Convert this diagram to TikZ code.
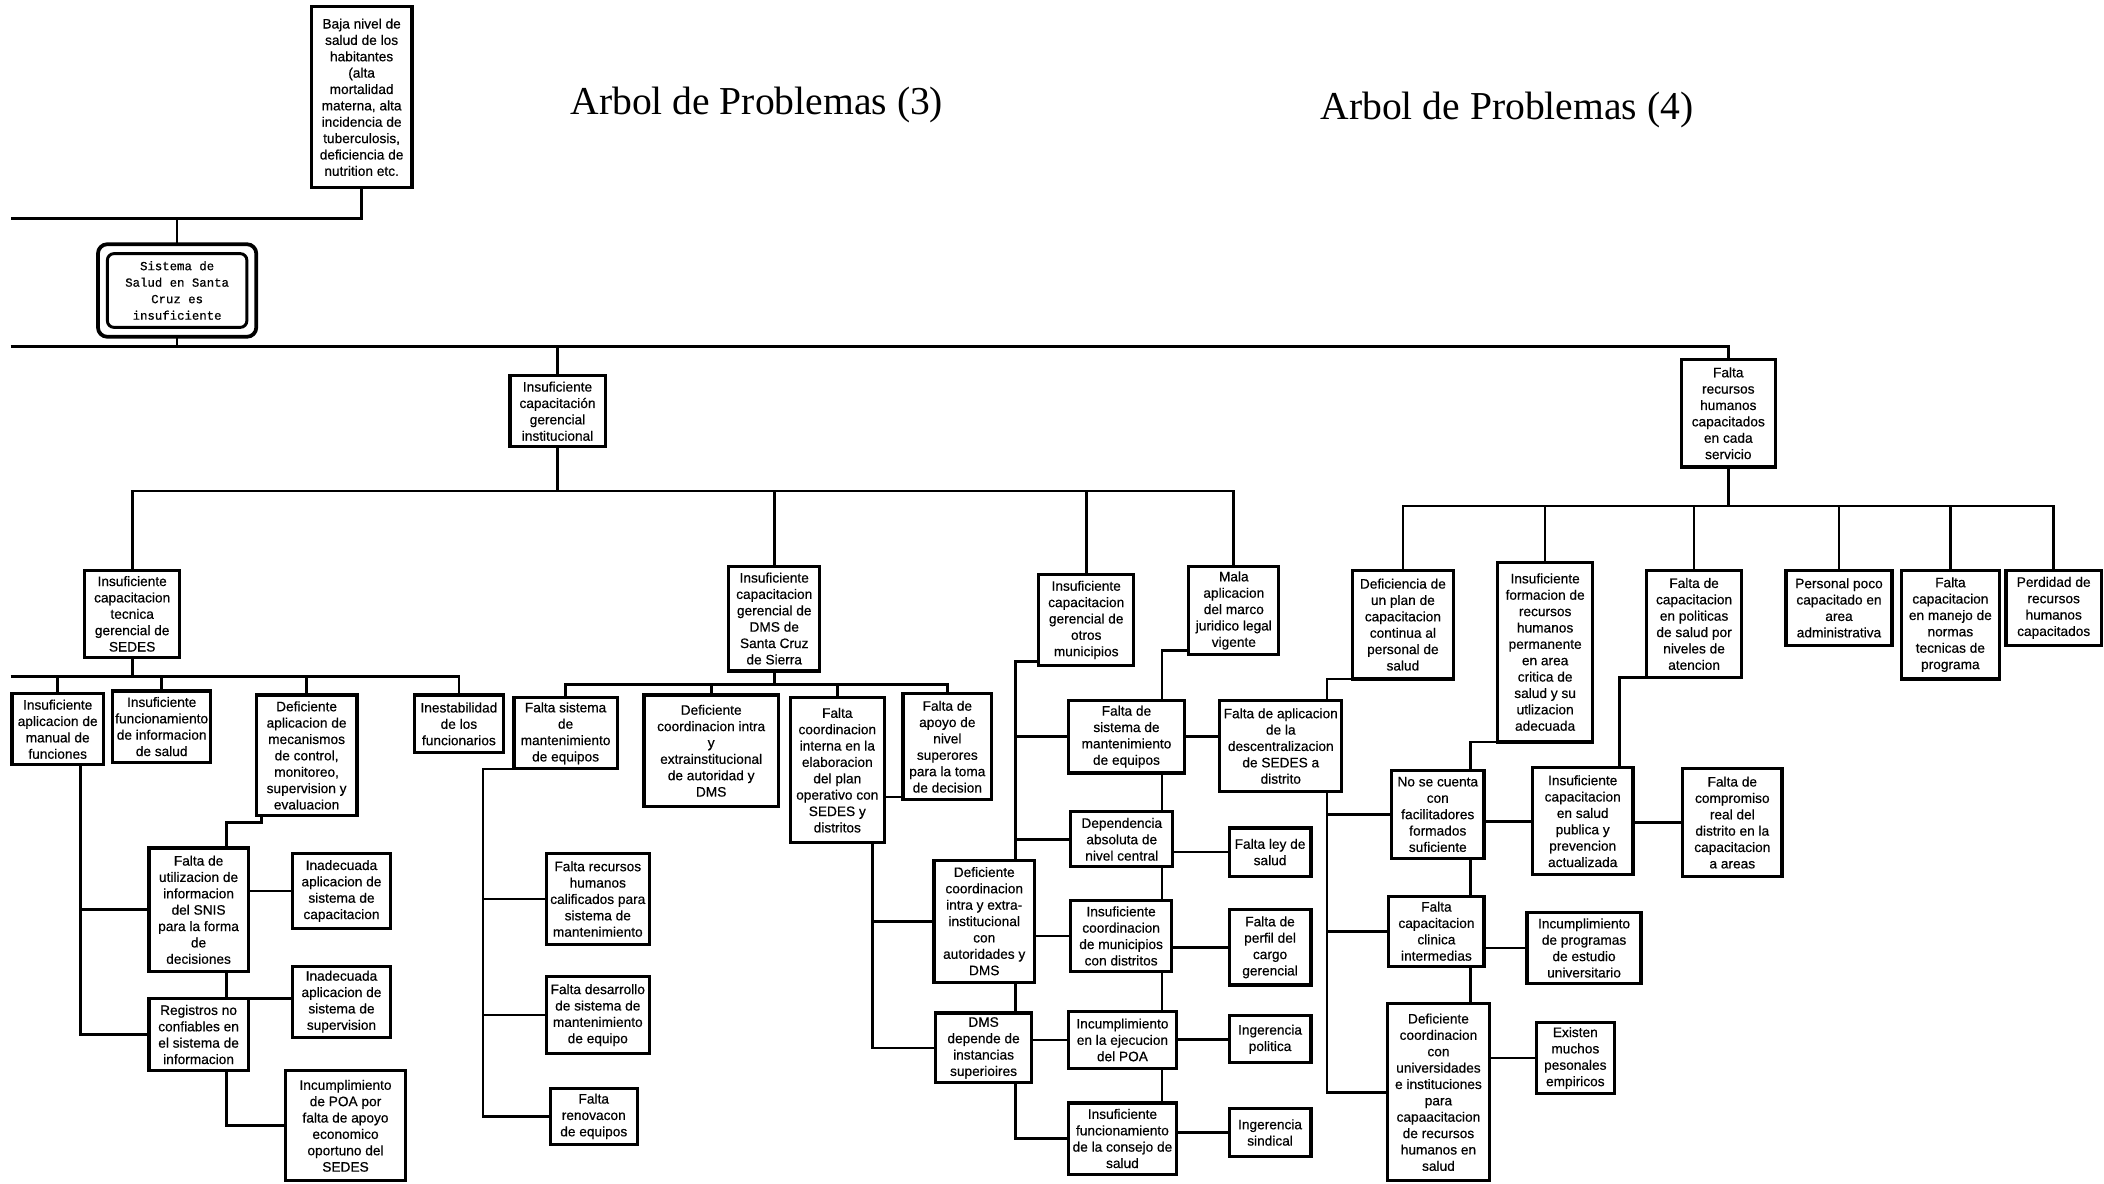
\documentclass[tikz,border=0pt]{standalone}
\usepackage{fontspec}
\setmainfont{Liberation Serif}
\newfontfamily\bxfont[FakeBold=0.5]{Liberation Sans}
\newfontfamily\sysfont[FakeBold=0.6]{Liberation Mono}
\usetikzlibrary{calc}

% box given by its corners (x1,y1) and (x2,y2), y measured downwards
\newcommand{\cajabox}[6]{%
  \node[box, minimum width={#4-#2}, minimum height={#5-#3}] (#1)
    at ({(#2+#4)/2},{(#3+#5)/2}) {#6};}

\begin{document}
\begin{tikzpicture}[x=1pt, y=-1pt,
  box/.style={draw, line width=2.4pt, align=center, inner sep=0pt, outer sep=0pt,
    font=\bxfont\fontsize{10.2}{12.2}\selectfont},
  conn/.style={line width=2pt},
  title/.style={font=\fontsize{29.5}{33}\selectfont}]
\useasboundingbox (0,0) rectangle (1568,882);
\fill[white] (0,0) rectangle (1568,882);

% titles
\node[title] at (564,78) {Arbol de Problemas (3)};
\node[title] at (1123,82) {Arbol de Problemas (4)};

% ---- top levels ----
\cajabox{baja}{232}{5}{307}{140}{Baja nivel de\\salud de los\\habitantes\\(alta\\mortalidad\\materna, alta\\incidencia de\\tuberculosis,\\deficiencia de\\nutrition etc.}
\node[draw, line width=2.8pt, rounded corners=7pt, minimum width=118, minimum height=69,
  inner sep=0pt, outer sep=0pt, align=center, font=\sysfont\fontsize{9.2}{12.3}\selectfont]
  (sist) at (132,216.5) {Sistema de\\Salud en Santa\\Cruz es\\insuficiente};
\draw[line width=2.2pt, rounded corners=5pt]
  ($(sist.south west)+(7,-7)$) rectangle ($(sist.north east)+(-7,7)$);
\cajabox{inst}{380}{280}{451}{333}{Insuficiente\\capacitación\\gerencial\\institucional}
\cajabox{frh}{1253}{268}{1323}{348}{Falta\\recursos\\humanos\\capacitados\\en cada\\servicio}

% ---- level 3, left tree ----
\cajabox{sedes}{63}{425}{134}{490}{Insuficiente\\capacitacion\\tecnica\\gerencial de\\SEDES}
\cajabox{dms}{543}{422}{611}{500}{Insuficiente\\capacitacion\\gerencial de\\DMS de\\Santa Cruz\\de Sierra}
\cajabox{otros}{774}{428}{845}{496}{Insuficiente\\capacitacion\\gerencial de\\otros\\municipios}
\cajabox{mala}{886}{422}{953}{488}{Mala\\aplicacion\\del marco\\juridico legal\\vigente}

% ---- level 3, right tree ----
\cajabox{defplan}{1008}{425}{1083}{506}{Deficiencia de\\un plan de\\capacitacion\\continua al\\personal de\\salud}
\cajabox{insform}{1116}{419}{1187}{553}{Insuficiente\\formacion de\\recursos\\humanos\\permanente\\en area\\critica de\\salud y su\\utlizacion\\adecuada}
\cajabox{faltpol}{1227}{425}{1298}{505}{Falta de\\capacitacion\\en politicas\\de salud por\\niveles de\\atencion}
\cajabox{perspoco}{1331}{425}{1410}{481}{Personal poco\\capacitado en\\area\\administrativa}
\cajabox{faltman}{1417}{425}{1490}{506}{Falta\\capacitacion\\en manejo de\\normas\\tecnicas de\\programa}
\cajabox{perd}{1495}{425}{1566}{481}{Perdidad de\\recursos\\humanos\\capacitados}

% ---- SEDES branch ----
\cajabox{manual}{9}{517}{77}{570}{Insuficiente\\aplicacion de\\manual de\\funciones}
\cajabox{funcinfo}{84}{515}{157}{568}{Insuficiente\\funcionamiento\\de informacion\\de salud}
\cajabox{defmec}{191}{518}{266}{608}{Deficiente\\aplicacion de\\mecanismos\\de control,\\monitoreo,\\supervision y\\evaluacion}
\cajabox{inest}{309}{518}{375}{561}{Inestabilidad\\de los\\funcionarios}
\cajabox{snis}{111}{632}{185}{724}{Falta de\\utilizacion de\\informacion\\del SNIS\\para la forma\\de\\decisiones}
\cajabox{inadcap}{218}{636}{291}{692}{Inadecuada\\aplicacion de\\sistema de\\capacitacion}
\cajabox{inadsup}{218}{720}{291}{773}{Inadecuada\\aplicacion de\\sistema de\\supervision}
\cajabox{reg}{111}{744}{185}{798}{Registros no\\confiables en\\el sistema de\\informacion}
\cajabox{poa}{213}{798}{302}{880}{Incumplimiento\\de POA por\\falta de apoyo\\economico\\oportuno del\\SEDES}

% ---- DMS branch ----
\cajabox{fsist}{383}{520}{460}{573}{Falta sistema\\de\\mantenimiento\\de equipos}
\cajabox{defintra}{480}{518}{580}{601}{Deficiente\\coordinacion intra\\y\\extrainstitucional\\de autoridad y\\DMS}
\cajabox{fcoordint}{589}{520}{659}{628}{Falta\\coordinacion\\interna en la\\elaboracion\\del plan\\operativo con\\SEDES y\\distritos}
\cajabox{fapoyo}{673}{517}{739}{596}{Falta de\\apoyo de\\nivel\\superores\\para la toma\\de decision}
\cajabox{frrhh}{407}{636}{484}{704}{Falta recursos\\humanos\\calificados para\\sistema de\\mantenimiento}
\cajabox{fdes}{407}{728}{484}{785}{Falta desarrollo\\de sistema de\\mantenimiento\\de equipo}
\cajabox{fren}{410}{811}{475}{853}{Falta\\renovacon\\de equipos}

% ---- other municipalities / legal frame ----
\cajabox{msist}{796}{522}{883}{576}{Falta de\\sistema de\\mantenimiento\\de equipos}
\cajabox{depend}{798}{605}{874}{646}{Dependencia\\absoluta de\\nivel central}
\cajabox{defcoord}{696}{641}{771}{732}{Deficiente\\coordinacion\\intra y extra-\\institucional\\con\\autoridades y\\DMS}
\cajabox{insmun}{798}{671}{873}{724}{Insuficiente\\coordinacion\\de municipios\\con distritos}
\cajabox{dmsdep}{697}{755}{769}{807}{DMS\\depende de\\instancias\\superioires}
\cajabox{incpoa}{796}{754}{877}{796}{Incumplimiento\\en la ejecucion\\del POA}
\cajabox{insfunc}{796}{822}{877}{875}{Insuficiente\\funcionamiento\\de la consejo de\\salud}
\cajabox{desc}{909}{522}{1000}{590}{Falta de aplicacion\\de la\\descentralizacion\\de SEDES a\\distrito}
\cajabox{ley}{916}{617}{977}{653}{Falta ley de\\salud}
\cajabox{perfil}{916}{678}{977}{734}{Falta de\\perfil del\\cargo\\gerencial}
\cajabox{ingpol}{916}{757}{977}{792}{Ingerencia\\politica}
\cajabox{ingsin}{916}{826}{977}{862}{Ingerencia\\sindical}

% ---- human resources branch ----
\cajabox{nose}{1037}{574}{1106}{640}{No se cuenta\\con\\facilitadores\\formados\\suficiente}
\cajabox{inscap}{1142}{572}{1217}{652}{Insuficiente\\capacitacion\\en salud\\publica y\\prevencion\\actualizada}
\cajabox{fcomp}{1254}{573}{1328}{653}{Falta de\\compromiso\\real del\\distrito en la\\capacitacion\\a areas}
\cajabox{fclin}{1035}{668}{1106}{720}{Falta\\capacitacion\\clinica\\intermedias}
\cajabox{incprog}{1138}{680}{1223}{733}{Incumplimiento\\de programas\\de estudio\\universitario}
\cajabox{defuniv}{1034}{748}{1110}{880}{Deficiente\\coordinacion\\con\\universidades\\e instituciones\\para\\capaacitacion\\de recursos\\humanos en\\salud}
\cajabox{exist}{1145}{762}{1203}{815}{Existen\\muchos\\pesonales\\empiricos}

% ---- bus levels and vertical rails ----
\coordinate (busTop) at (8,163);
\coordinate (busMain) at (8,258);
\coordinate (busI) at (0,366);
\coordinate (busR) at (0,377);
\coordinate (busS) at (8,504);
\coordinate (busD) at (0,510);
\coordinate (mv) at (60,0);
\coordinate (sx) at (169,613);
\coordinate (fv) at (360,0);
\coordinate (cv) at (650,0);
\coordinate (ov) at (757,0);
\coordinate (mv2) at (866,0);
\coordinate (dv) at (989,0);
\coordinate (nv) at (1096,0);
\coordinate (pv) at (1207,0);
\coordinate (ap) at ([yshift=2pt]fapoyo.south west);

\begin{scope}[conn]
% top
\draw (baja.south) |- (busTop);
\draw (sist.north) -- (sist.north |- busTop);
\draw (sist.south) |- (busMain);
\draw (busMain) -| (frh.north);
\draw (inst.north) -- (inst.north |- busMain);
% institutional tree
\draw (inst.south) -- (inst.south |- busI);
\draw (sedes.north) -- (sedes.north |- busI) -- (mala.north |- busI) -- (mala.north);
\draw (dms.north) -- (dms.north |- busI);
\draw (otros.north) -- (otros.north |- busI);
% SEDES branch
\draw (sedes.south) -- (sedes.south |- busS);
\draw (busS) -| (inest.north);
\draw (manual.north) -- (manual.north |- busS);
\draw (funcinfo.north) -- (funcinfo.north |- busS);
\draw (defmec.north) -- (defmec.north |- busS);
\draw (manual.south -| mv) |- (reg.west);
\draw (snis.west) -- (snis.west -| mv);
\draw ($(defmec.south west)+(4,0)$) |- (sx) -- (sx |- snis.north);
\draw (inadcap.west) -- (inadcap.west -| snis.east);
\draw (snis.south -| sx) -- (reg.north -| sx);
\draw (reg.north -| sx) -- (reg.north -| inadsup.west);
\draw (reg.south -| sx) |- (poa.west);
% DMS branch
\draw (dms.south) -- (dms.south |- busD);
\draw (fsist.north) -- (fsist.north |- busD) -- (fapoyo.north |- busD) -- (fapoyo.north);
\draw (defintra.north) -- (defintra.north |- busD);
\draw (fcoordint.north) -- (fcoordint.north |- busD);
\draw (fsist.south west) -| (fren.west -| fv) -- (fren.west);
\draw (frrhh.west) -- (frrhh.west -| fv);
\draw (fdes.west) -- (fdes.west -| fv);
\draw (ap) -- (ap -| fcoordint.east);
\draw (fcoordint.south -| cv) |- (dmsdep.west);
\draw (defcoord.west) -- (defcoord.west -| cv);
% other municipalities
\draw ([yshift=3pt]otros.south west) -| (defcoord.north -| ov);
\draw (msist.west) -- (msist.west -| ov);
\draw (depend.west) -- (depend.west -| ov);
\draw (defcoord.south -| ov) -- (dmsdep.north -| ov);
\draw (dmsdep.south -| ov) |- (insfunc.west);
\draw (insmun.west) -- (insmun.west -| defcoord.east);
\draw (incpoa.west) -- (incpoa.west -| dmsdep.east);
% legal frame chain
\draw ([yshift=3pt]mala.south west) -| (msist.north -| mv2);
\draw (msist.south -| mv2) -- (depend.north -| mv2);
\draw (depend.south -| mv2) -- (insmun.north -| mv2);
\draw (insmun.south -| mv2) -- (incpoa.north -| mv2);
\draw (incpoa.south -| mv2) -- (insfunc.north -| mv2);
\draw (msist.east) -- (msist.east -| desc.west);
\draw (ley.west) -- (ley.west -| depend.east);
\draw (perfil.west) -- (perfil.west -| insmun.east);
\draw (ingpol.west) -- (ingpol.west -| incpoa.east);
\draw (ingsin.west) -- (ingsin.west -| insfunc.east);
% human resources tree
\draw (frh.south) -- (frh.south |- busR);
\draw (defplan.north) -- (defplan.north |- busR) -- (perd.north |- busR) -- (perd.north);
\draw (insform.north) -- (insform.north |- busR);
\draw (faltpol.north) -- (faltpol.north |- busR);
\draw (perspoco.north) -- (perspoco.north |- busR);
\draw (faltman.north) -- (faltman.north |- busR);
\draw (defplan.south west) -| (desc.north -| dv);
\draw (desc.south -| dv) |- (defuniv.west);
\draw (nose.west) -- (nose.west -| dv);
\draw (fclin.west) -- (fclin.west -| dv);
\draw (insform.south west) -| (nose.north -| nv);
\draw (nose.south -| nv) -- (fclin.north -| nv);
\draw (fclin.south -| nv) -- (defuniv.north -| nv);
\draw (inscap.west) -- (inscap.west -| nose.east);
\draw (fcomp.west) -- (fcomp.west -| inscap.east);
\draw (faltpol.south west) -| (inscap.north -| pv);
\draw (incprog.west) -- (incprog.west -| fclin.east);
\draw (exist.west) -- (exist.west -| defuniv.east);
\end{scope}
\end{tikzpicture}
\end{document}
